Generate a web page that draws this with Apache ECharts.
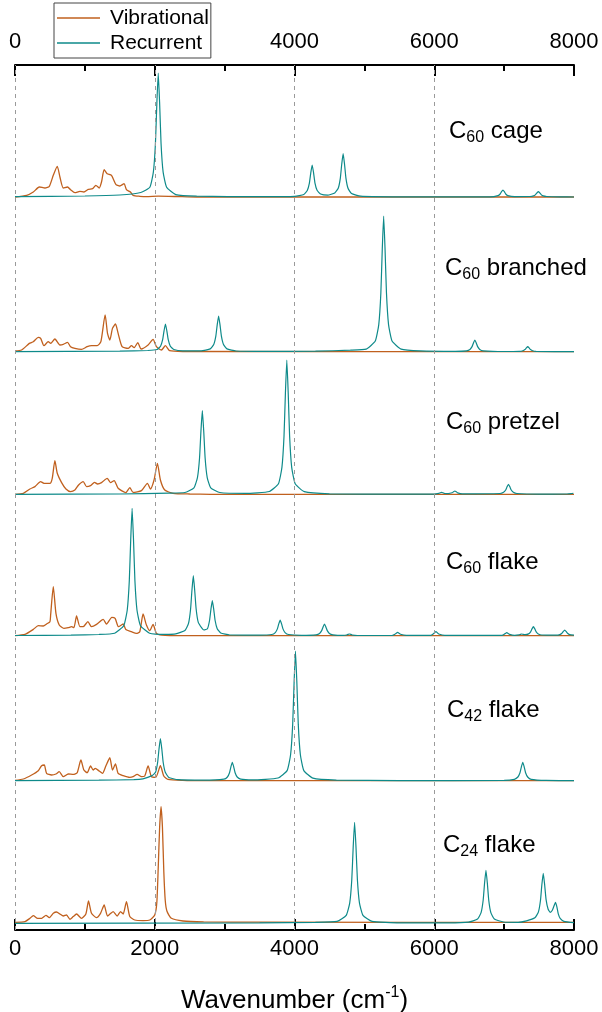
<!DOCTYPE html>
<html>
<head>
<meta charset="utf-8">
<script src="https://cdn.jsdelivr.net/npm/echarts@6/dist/echarts.min.js"></script>
<style>
html,body{margin:0;padding:0;background:#fff;}
#chart{width:602px;height:1012px;}
</style>
</head>
<body>
<div id="chart"></div>
<script>
// ---------- data (x: wavenumber in cm-1, y: intensity in arbitrary units) ----------
const panelNames = ['C60 cage', 'C60 branched', 'C60 pretzel', 'C60 flake', 'C42 flake', 'C24 flake'];
const panelSub = ['60', '60', '60', '60', '42', '24'];
const panelWord = ['cage', 'branched', 'pretzel', 'flake', 'flake', 'flake'];
const xTicks = [0, 2000, 4000, 6000, 8000];
const guideLines = [0, 2000, 4000, 6000];

// vertical offsets of each stacked spectrum (intensity units)
const offsetVib = [733, 578.3, 435.7, 294.3, 149.3, 7.7];
const offsetRec = [733, 578.3, 435.7, 294.3, 149.3, 6.7];

const vibCage = [[0,0],[167,1.7],[262,5],[348,10],[429,9],[491,10.7],[548,21.7],[605,30.7],[643,20],[691,9],[752,10],[795,7.3],[857,4.3],[929,5.7],[986,5],[1048,7.7],[1110,8.3],[1157,11.7],[1205,9],[1238,15],[1276,27.3],[1319,23.3],[1381,21.7],[1443,12.7],[1500,11],[1562,13.3],[1595,7.3],[1652,5],[1690,1.7],[1786,0.7],[1881,0.3],[2050,0.8],[2300,0.5],[2600,0],[8000,0]];
const recCage = [[0,0.4],[1000,1],[1500,2],[1800,4.5],[1930,9.7],[1980,24.8],[2010,53.8],[2030,93.5],[2050,124],[2070,93.5],[2090,53.8],[2120,24.8],[2170,9.7],[2300,2.4],[2600,0.8],[3500,0.3],[4003,0.6],[4133,2.5],[4183,6.4],[4213,13.9],[4233,24.1],[4253,32],[4273,24.1],[4293,13.9],[4323,6.7],[4373,3],[4475,1.8],[4576,4.1],[4626,8.7],[4656,18.9],[4676,32.8],[4696,43.5],[4716,32.8],[4736,18.9],[4766,8.7],[4816,3.4],[4946,0.8],[5400,0.2],[6800,0.2],[6913,1.4],[6943,3],[6963,5.3],[6983,7],[7003,5.3],[7023,3],[7053,1.4],[7150,0.4],[7370,0.5],[7420,1.1],[7450,2.4],[7470,4.1],[7490,5.5],[7510,4.1],[7530,2.4],[7560,1.1],[7610,0.5],[7800,0.1],[8000,0]];

const vibBranched = [[0,0.7],[95,1.7],[205,8.3],[262,10],[333,14.3],[367,13.3],[414,6],[476,10],[510,8.3],[571,12.7],[643,6.7],[691,7.3],[752,9.3],[795,5],[857,3.3],[952,2.3],[1033,5],[1095,6],[1176,6],[1229,10],[1290,36.7],[1324,18.3],[1357,11.7],[1395,23.3],[1438,27.7],[1476,18.3],[1533,5],[1619,3.3],[1667,6],[1705,4],[1757,9],[1805,2.7],[1905,6.7],[1976,12.3],[2024,5],[2095,1.7],[2153,6],[2214,1],[2400,0.2],[8000,0]];
const recBranched = [[0,0],[1500,0.5],[1900,1.2],[2033,2.2],[2083,5.5],[2113,12],[2133,20.9],[2153,27.7],[2173,20.9],[2193,12],[2223,5.5],[2273,2.2],[2400,0.8],[2664,0.9],[2794,2.8],[2844,7.1],[2874,15.5],[2894,26.9],[2914,35.7],[2934,26.9],[2954,15.5],[2984,7.1],[3034,2.8],[3164,0.7],[3600,0.3],[4300,0.5],[4800,1.5],[5026,2.6],[5156,10.6],[5206,27.1],[5236,58.9],[5256,102.3],[5276,135.7],[5296,102.3],[5316,58.9],[5346,27.1],[5396,10.6],[5526,2.6],[5800,0.8],[6300,0.4],[6461,0.9],[6511,2.3],[6541,5.1],[6561,8.8],[6581,11.7],[6601,8.8],[6621,5.1],[6651,2.3],[6701,0.9],[7000,0.2],[7218,0.4],[7268,1],[7298,2.2],[7318,3.8],[7338,5],[7358,3.8],[7378,2.2],[7408,1],[7458,0.4],[8000,0]];

const vibPretzel = [[0,0],[119,1],[214,5.3],[286,7.7],[367,12.7],[414,11],[500,11],[533,16],[571,33.7],[605,21],[667,11.7],[729,5.3],[795,2.7],[857,4.3],[910,9.3],[976,12.7],[1024,7.7],[1081,8.7],[1138,12],[1181,10.3],[1238,11.7],[1319,16],[1367,11.7],[1419,13.7],[1476,6],[1586,1.7],[1643,6.7],[1690,2],[1810,3.7],[1895,11],[1938,5.3],[1990,14.3],[2038,31],[2081,14.3],[2143,4.3],[2262,1],[2500,0.3],[2800,0],[8000,0]];
const recPretzel = [[0,0],[1500,0.3],[2200,1.2],[2431,1.8],[2561,6.5],[2611,16.7],[2641,36.3],[2661,63.1],[2681,83.7],[2701,63.1],[2721,36.3],[2751,16.7],[2801,6.5],[2931,1.8],[3300,0.9],[3640,2.8],[3770,10.5],[3820,26.9],[3850,58.3],[3870,101.3],[3890,134.3],[3910,101.3],[3930,58.3],[3960,26.9],[4010,10.5],[4140,2.6],[4500,0.5],[5500,0.1],[6000,0.1],[6065,0.9],[6085,1.5],[6105,2],[6125,1.5],[6150,0.8],[6200,0.7],[6255,1.5],[6275,2.5],[6295,3.3],[6315,2.5],[6335,1.4],[6400,0.4],[6942,0.8],[6992,2],[7022,4.3],[7042,7.5],[7062,10],[7082,7.5],[7102,4.3],[7132,2],[7182,0.8],[7500,0.2],[7900,0.3],[7960,0.7],[7990,1],[8000,1]];

const vibFlake60 = [[0,0],[143,1.3],[262,6.3],[333,10],[405,9.7],[452,11.7],[500,14],[510,20.7],[548,49],[586,22.3],[633,10.7],[700,7.3],[762,8],[810,9],[843,8],[881,19.7],[929,9],[976,9],[1043,14],[1095,9],[1167,11.3],[1262,16.3],[1310,11.7],[1386,18.3],[1433,17.3],[1481,9],[1548,11.7],[1586,6.3],[1667,4],[1738,2.3],[1786,4],[1833,21.7],[1881,10.7],[1929,5],[1976,11.3],[2024,2.3],[2100,0.5],[2400,0],[8000,0]];
const recFlake60 = [[0,0.2],[800,0.5],[1200,1.2],[1426,2.5],[1556,9.9],[1606,25.5],[1636,55.2],[1656,96],[1676,127.3],[1696,96],[1716,55.2],[1746,25.5],[1796,9.9],[1926,2.5],[2150,1.3],[2300,1.8],[2432,5.2],[2482,12],[2512,26],[2532,45.2],[2552,60],[2572,45.2],[2592,26.9],[2622,13.5],[2672,7.8],[2704,5.7],[2754,7],[2784,15.2],[2804,26.4],[2824,35],[2844,26.4],[2864,15.2],[2894,7],[2944,2.7],[3074,0.7],[3500,0.6],[3675,1.2],[3725,3.1],[3755,6.8],[3775,11.8],[3795,15.7],[3815,11.8],[3835,6.8],[3865,3.1],[3915,1.2],[4100,0.4],[4309,0.9],[4359,2.3],[4389,5.1],[4409,8.8],[4429,11.7],[4449,8.8],[4469,5.1],[4499,2.3],[4549,0.9],[4700,0.3],[4746,0.7],[4766,1.3],[4786,1.7],[4806,1.3],[4826,0.7],[4900,0.2],[5400,0.3],[5436,1.4],[5456,2.5],[5476,3.3],[5496,2.5],[5516,1.4],[5600,0.3],[5950,0.4],[5984,1.7],[6004,3],[6024,4],[6044,3],[6064,1.7],[6150,0.3],[6970,0.4],[6998,1.3],[7018,2.3],[7038,3],[7058,2.3],[7078,1.3],[7150,0.4],[7212,0.8],[7232,1.3],[7252,1.7],[7272,1.3],[7299,1],[7349,1.8],[7379,3.9],[7399,6.8],[7419,9],[7439,6.8],[7459,3.9],[7489,1.8],[7539,0.7],[7747,0.5],[7797,1.1],[7827,2.5],[7847,4.3],[7867,5.7],[7887,4.3],[7907,2.5],[7937,1.1],[8000,0.6]];

const vibFlake42 = [[0,0.3],[119,1.7],[238,5.7],[333,10],[381,15],[419,15.7],[452,7.3],[524,5.7],[586,6.7],[633,9],[691,4],[762,6.7],[833,6.3],[890,8],[943,20.7],[986,10.7],[1033,8],[1081,14.7],[1119,10.7],[1148,12.3],[1205,9.7],[1252,7.3],[1300,14.7],[1357,23],[1395,10.7],[1438,16.7],[1476,7.3],[1548,5],[1643,3.3],[1690,4],[1748,6.3],[1810,4],[1857,4.7],[1905,14.7],[1952,4],[2014,3.3],[2081,15],[2129,4.7],[2190,1.3],[2400,0.3],[2700,0],[8000,0]];
const recFlake42 = [[0,0],[1200,0.5],[1700,1],[1831,1.9],[1961,5.1],[2011,8.4],[2041,18.2],[2061,31.7],[2081,42],[2101,31.7],[2121,18.2],[2151,8.4],[2201,3.3],[2331,1],[2700,0.5],[2990,1.5],[3040,3.7],[3070,7.9],[3090,13.8],[3110,18.3],[3130,13.8],[3150,7.9],[3180,3.7],[3230,1.5],[3400,0.8],[3764,2.7],[3894,10.1],[3944,26],[3974,56.3],[3994,97.8],[4014,129.7],[4034,97.8],[4054,56.3],[4084,26],[4134,10.1],[4264,2.5],[4600,0.6],[5500,0.1],[7000,0.3],[7147,1.4],[7197,3.7],[7227,7.9],[7247,13.8],[7267,18.3],[7287,13.8],[7307,7.9],[7337,3.7],[7387,1.4],[7600,0.3],[8000,0.1]];

const vibFlake24 = [[0,0],[143,0.7],[214,4],[262,6.7],[324,4],[381,4],[443,7],[491,4.7],[548,9],[595,10.3],[643,8.3],[691,6.3],[738,7.3],[786,3],[833,5.7],[881,8.3],[952,4],[1014,8.3],[1052,21.3],[1095,9],[1167,4.7],[1224,9],[1276,17.3],[1324,6.3],[1371,9],[1405,10.7],[1462,6.3],[1510,10.7],[1548,8.3],[1595,20.7],[1643,5.7],[1714,2.3],[1833,1.7],[1929,2.3],[2000,7.3],[2030,20],[2050,55],[2070,95],[2090,115.6],[2110,95],[2130,50],[2150,22],[2175,11],[2238,4],[2405,1.3],[2700,0.5],[3500,0.1],[8000,0]];
const recFlake24 = [[0,0],[3500,0.4],[4300,1],[4610,2],[4740,7.9],[4790,20.2],[4820,43.8],[4840,76.2],[4860,101],[4880,76.2],[4900,43.8],[4930,20.2],[4980,7.9],[5110,2],[5500,0.5],[6200,0.5],[6490,1.2],[6620,4.2],[6670,10.6],[6700,23],[6720,40],[6740,53],[6760,40],[6780,23],[6810,10.6],[6860,4.2],[6990,1.3],[7200,1],[7320,2.5],[7440,5.5],[7490,11.2],[7520,22.8],[7540,38.5],[7560,50],[7580,38.5],[7600,24],[7630,14],[7660,11],[7690,13],[7715,17.5],[7735,21],[7755,16.5],[7775,9.5],[7805,4.6],[7855,2],[8000,0.6]];

const vibAll = [vibCage, vibBranched, vibPretzel, vibFlake60, vibFlake42, vibFlake24];
const recAll = [recCage, recBranched, recPretzel, recFlake60, recFlake42, recFlake24];

// ---------- chart ----------
const FONT = '"Liberation Sans", Arial, Helvetica, sans-serif';
const ORANGE = '#C0601E';
const TEAL = '#0E8A8A';

const chart = echarts.init(document.getElementById('chart'), null, {renderer: 'canvas'});

const series = [];
vibAll.forEach((d, i) => {
  const s = {
    name: 'Vibrational', type: 'line', xAxisIndex: 0, yAxisIndex: 0,
    data: d.map(p => [p[0], p[1] + offsetVib[i]]),
    showSymbol: false, symbol: 'none', smooth: 0.2, silent: true,
    lineStyle: {color: ORANGE, width: 1.3}, itemStyle: {color: ORANGE},
    z: 2
  };
  if (i === 0) {
    s.markLine = {
      silent: true, symbol: 'none', label: {show: false},
      lineStyle: {color: '#9a9a9a', type: [4, 4], width: 1},
      data: guideLines.map(v => ({xAxis: v}))
    };
  }
  series.push(s);
});
recAll.forEach((d, i) => {
  series.push({
    name: 'Recurrent', type: 'line', xAxisIndex: 0, yAxisIndex: 0,
    data: d.map(p => [p[0], p[1] + offsetRec[i]]),
    showSymbol: false, symbol: 'none', smooth: 0.15, silent: true,
    lineStyle: {color: TEAL, width: 1.2}, itemStyle: {color: TEAL},
    z: 3
  });
});

const axisCommon = {
  type: 'value', min: xTicks[0], max: xTicks[xTicks.length - 1], interval: 2000,
  axisLine: {show: true, onZero: false, lineStyle: {color: '#000', width: 2}},
  axisTick: {show: true, inside: true, length: 11, lineStyle: {color: '#000', width: 2}},
  minorTick: {show: true, splitNumber: 2, length: 6, lineStyle: {color: '#000', width: 2}},
  splitLine: {show: false},
  axisLabel: {color: '#000', fontSize: 22, fontFamily: FONT, formatter: v => String(v)}
};

const labelGraphics = panelNames.map((n, i) => {
  const pos = [[449, 131], [445, 268], [446, 422], [446, 562], [447, 710], [443, 845]][i];
  return {
    type: 'text', x: pos[0], y: pos[1], silent: true, z: 10,
    style: {
      text: '{c|C}{s|' + panelSub[i] + '}{c| ' + panelWord[i] + '}',
      verticalAlign: 'middle', align: 'left',
      rich: {
        c: {fontSize: 24, fontFamily: FONT, fill: '#000', lineHeight: 30},
        s: {fontSize: 16, fontFamily: FONT, fill: '#000', lineHeight: 14, verticalAlign: 'bottom'}
      }
    }
  };
});

chart.setOption({
  animation: false,
  backgroundColor: '#fff',
  grid: {left: 15, right: 28, top: 65, bottom: 82, containLabel: false, outerBoundsMode: 'none'},
  legend: {
    data: ['Vibrational', 'Recurrent'],
    orient: 'vertical', left: 54, top: 3,
    padding: [2.5, 2, 2.5, 3], itemGap: 0,
    itemWidth: 43, itemHeight: 1.6, icon: 'rect',
    backgroundColor: '#fff', borderColor: '#444', borderWidth: 1, borderRadius: 0,
    selectedMode: false,
    textStyle: {color: '#000', fontSize: 21, fontFamily: FONT, lineHeight: 25, padding: [0, 0, 0, 5]},
    z: 20
  },
  xAxis: [
    Object.assign({}, axisCommon, {
      position: 'bottom',
      axisLabel: Object.assign({}, axisCommon.axisLabel, {margin: 8}),
      name: '{a|Wavenumber (cm}{b|-1}{a|)}',
      nameLocation: 'middle', nameGap: 55,
      nameTextStyle: {
        rich: {
          a: {fontSize: 26, fontFamily: FONT, color: '#000', lineHeight: 32},
          b: {fontSize: 16, fontFamily: FONT, color: '#000', lineHeight: 18, verticalAlign: 'top'}
        }
      }
    }),
    Object.assign({}, axisCommon, {
      position: 'top',
      axisLabel: Object.assign({}, axisCommon.axisLabel, {margin: 12})
    })
  ],
  yAxis: [{type: 'value', min: 0, max: 865, show: false}],
  series: series,
  graphic: labelGraphics
});
</script>
</body>
</html>
